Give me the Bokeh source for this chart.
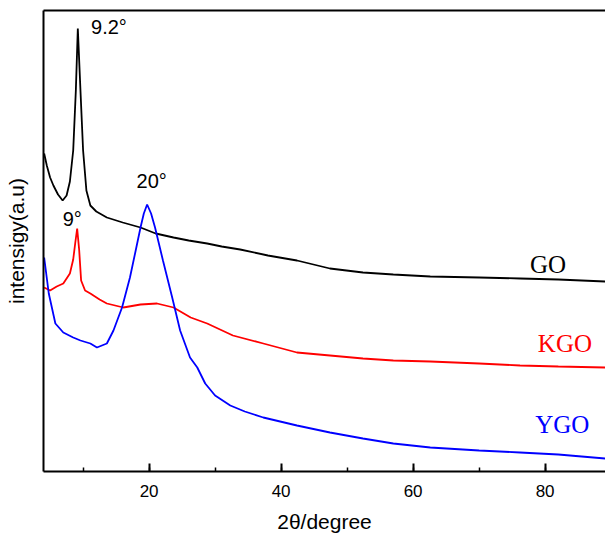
from bokeh.plotting import figure
from bokeh.models import LinearAxis, SingleIntervalTicker, FixedTicker, Label, Range1d
from bokeh.embed import file_html
from bokeh.resources import INLINE

# ---- data (2theta in degrees, intensity in arbitrary units) ----
go_x = [4.1, 4.5, 5.0, 5.5, 6.2, 6.9, 7.5, 8.0, 8.5, 8.9, 9.2, 9.6, 10.0, 10.5, 11.1, 12.0, 13.6,
        16.0, 18.7, 21.0, 23.7, 26.0, 28.8, 31.0, 33.8, 38.0, 42.4, 47.4, 52.4, 57.0, 62.6, 70.0,
        76.2, 82.0, 89.1]
go_y = [318, 306, 294, 286, 277, 271, 276, 290, 321, 381, 443, 381, 321, 281, 266, 260, 254,
        249, 244, 238, 234, 231, 228, 225, 222, 216, 211, 203, 199, 197, 195, 194,
        193, 192, 190]

kgo_x = [4.1, 5.0, 6.0, 7.0, 8.0, 8.5, 8.8, 9.1, 9.4, 9.7, 10.3, 11.1, 12.5, 13.6, 16.1, 18.7,
         21.2, 23.7, 26.3, 28.8, 32.7, 37.3, 42.4, 47.4, 52.4, 57.0, 62.6, 70.0, 76.2, 82.0, 89.1]
kgo_y = [184, 181, 185, 188, 198, 212, 228, 243, 222, 191, 181, 178, 172, 168, 164, 167,
         168, 164, 154, 148, 136, 128, 119, 116, 113, 111, 110, 108, 106, 105, 104]

ygo_x = [4.1, 4.8, 5.8, 7.0, 8.5, 9.6, 11.1, 12.1, 13.6, 14.6, 15.9, 17.1, 18.0, 18.7, 19.2,
         19.7, 20.3, 20.9, 22.1, 23.5, 24.7, 26.2, 27.3, 28.5, 30.0, 32.3, 34.5, 37.3, 42.4,
         47.4, 52.4, 57.0, 62.6, 70.0, 76.2, 82.0, 89.1]
ygo_y = [214, 178, 148, 139, 134, 131, 128, 124, 128, 141, 164, 194, 222, 244, 258,
         267, 258, 244, 211, 174, 141, 114, 104, 88, 76, 66, 60, 54, 46,
         39, 33, 28, 24, 21, 19, 17, 13]

series_names = ["GO", "KGO", "YGO"]
series_colors = ["#000000", "#ff0000", "#0000ff"]
peak_labels = ["9.2\u00b0", "20\u00b0", "9\u00b0"]

p = figure(width=605, height=538, output_backend="svg", toolbar_location=None,
           x_range=Range1d(4, 89.15), y_range=Range1d(0, 461),
           x_axis_type=None, y_axis_type=None,
           min_border_left=43, min_border_right=0, min_border_top=10, min_border_bottom=67)
p.outline_line_color = None
p.background_fill_color = "white"
p.border_fill_color = "white"

# bottom axis
xa = LinearAxis(ticker=SingleIntervalTicker(interval=20, num_minor_ticks=2), axis_label="2\u03b8/degree")
xa.axis_line_width = 2
xa.axis_line_color = "black"
xa.major_tick_in = 8
xa.major_tick_out = 0
xa.minor_tick_in = 4
xa.minor_tick_out = 0
xa.major_tick_line_width = 2
xa.minor_tick_line_width = 1.5
xa.major_label_text_font = "Liberation Sans"
xa.major_label_text_font_size = "17px"
xa.major_label_text_color = "black"
xa.major_label_standoff = 13
xa.axis_label_text_font = "Liberation Sans"
xa.axis_label_text_font_size = "21px"
xa.axis_label_text_font_style = "normal"
xa.axis_label_text_color = "black"
xa.axis_label_standoff = 10
p.add_layout(xa, "below")

# left axis (no ticks)
ya = LinearAxis(ticker=FixedTicker(ticks=[]), axis_label="intensigy(a.u)")
ya.axis_line_width = 2
ya.axis_line_color = "black"
ya.major_tick_out = 0
ya.major_tick_in = 0
ya.major_label_standoff = 0
ya.major_label_text_font_size = "0px"
ya.axis_label_text_font = "Liberation Sans"
ya.axis_label_text_font_size = "21px"
ya.axis_label_text_font_style = "normal"
ya.axis_label_text_color = "black"
ya.axis_label_standoff = 16
p.add_layout(ya, "left")

# top frame line
ta = LinearAxis(ticker=FixedTicker(ticks=[]))
ta.axis_line_width = 2
ta.axis_line_color = "black"
ta.major_tick_out = 0
ta.major_tick_in = 0
ta.major_label_standoff = 0
ta.major_label_text_font_size = "0px"
p.add_layout(ta, "above")

for xs, ys, c in zip([go_x, kgo_x, ygo_x], [go_y, kgo_y, ygo_y], series_colors):
    p.line(xs, ys, line_color=c, line_width=1.8)

# peak annotations
for txt, (lx, ly) in zip(peak_labels, [(11.2, 445), (18.1, 291), (6.9, 253)]):
    p.add_layout(Label(x=lx, y=ly, text=txt, text_font="Liberation Sans", text_font_size="20px",
                       text_color="black", text_align="left", text_baseline="alphabetic"))

# series labels
for txt, c, (lx, ly) in zip(series_names, series_colors, [(77.7, 207), (78.9, 128), (78.5, 47)]):
    p.add_layout(Label(x=lx, y=ly, text=txt, text_font="Liberation Serif", text_font_size="25px",
                       text_color=c, text_align="left", text_baseline="alphabetic"))

open("out.html", "w").write(file_html(p, INLINE))
